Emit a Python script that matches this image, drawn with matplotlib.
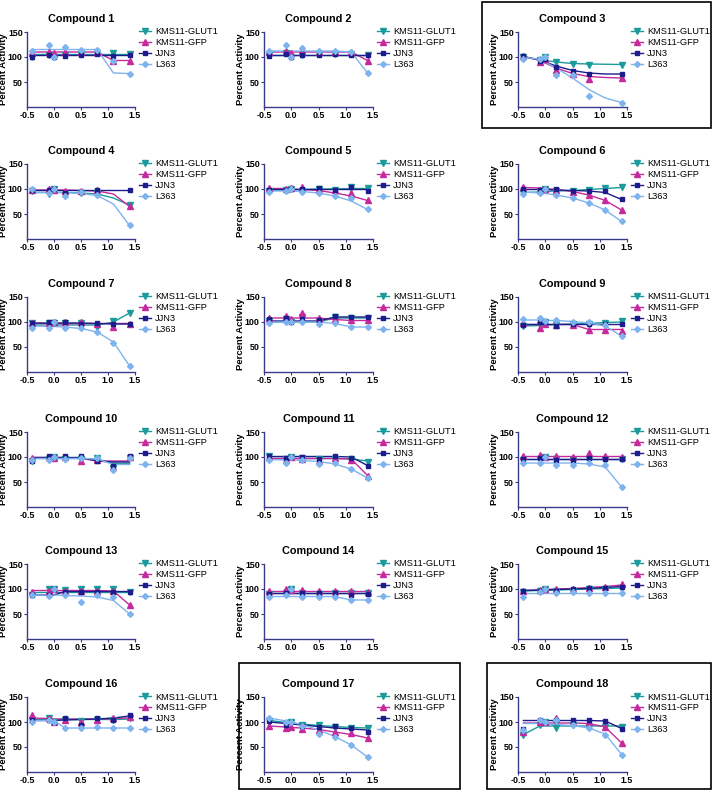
import numpy as np
import matplotlib
matplotlib.use("Agg")
import matplotlib.pyplot as plt
from matplotlib.patches import Rectangle

plt.rcParams['font.family'] = ['Liberation Sans', 'DejaVu Sans']

log_conc = [-0.4, -0.1, 0.0, 0.2, 0.5, 0.8, 1.1, 1.4]
series_names = ["KMS11-GLUT1", "KMS11-GFP", "JJN3", "L363"]
compounds = ["Compound %d" % i for i in range(1, 19)]
nan = np.nan

# measured points per compound: [GLUT1, GFP, JJN3, L363]
points = {
 1: [[100,105,100,105,107,108,108,106],[108,110,108,110,110,110,93,93],[100,105,100,103,105,106,103,105],[112,125,100,120,115,115,92,67]],
 2: [[105,108,100,105,106,106,106,105],[110,112,108,110,110,110,110,93],[103,106,100,104,105,106,105,105],[112,125,100,118,112,112,110,68]],
 3: [[100,95,100,90,86,85,nan,85],[103,90,97,75,66,57,nan,58],[102,93,97,80,73,66,nan,66],[97,97,100,65,65,22,nan,8]],
 4: [[95,90,100,88,92,92,nan,68],[98,100,98,95,96,97,nan,65],[97,97,100,92,93,97,nan,98],[100,92,100,85,93,88,nan,27]],
 5: [[95,97,100,96,100,98,104,102],[102,100,101,104,100,98,92,77],[97,97,100,100,102,97,104,95],[93,95,100,93,92,85,82,59]],
 6: [[92,95,100,96,96,97,101,103],[103,97,100,98,93,88,78,58],[100,98,100,100,95,96,95,79],[90,92,100,88,82,71,58,35]],
 7: [[98,98,98,98,98,90,102,118],[97,98,99,99,99,96,90,95],[98,100,99,99,96,97,96,96],[88,87,99,88,88,80,59,12]],
 8: [[102,105,100,110,100,110,108,107],[107,112,105,117,107,105,103,103],[105,107,100,105,103,112,110,110],[98,100,99,100,95,97,90,90]],
 9: [[92,93,100,93,95,95,98,101],[97,88,95,93,94,84,84,82],[93,100,100,92,95,95,95,96],[105,107,102,104,100,100,94,72]],
 10: [[93,97,100,96,97,98,78,98],[99,100,98,100,93,94,80,100],[92,102,100,102,102,93,82,102],[95,95,100,96,98,98,75,98]],
 11: [[102,97,100,98,96,97,97,90],[100,95,100,96,92,98,95,63],[102,98,100,100,97,102,98,83],[95,88,100,95,87,88,76,58]],
 12: [[95,97,100,96,95,97,95,97],[103,105,100,103,100,108,102,100],[97,98,100,95,95,98,97,97],[88,88,100,85,85,88,85,40]],
 13: [[88,100,100,98,100,100,100,95],[95,97,100,97,97,97,97,68],[88,88,100,95,95,95,95,95],[88,87,100,88,75,88,85,50]],
 14: [[90,92,100,92,90,92,92,92],[97,100,98,98,97,97,97,95],[90,92,100,92,92,93,88,90],[85,88,100,85,85,85,78,78]],
 15: [[95,97,100,97,97,100,100,102],[97,98,100,100,100,103,105,110],[97,97,100,97,100,102,103,105],[85,95,100,92,95,92,92,92]],
 16: [[105,108,100,105,102,105,105,108],[115,108,100,105,100,105,108,110],[105,105,100,108,95,108,105,115],[100,105,100,88,88,90,88,88]],
 17: [[103,97,100,95,95,90,88,88],[92,88,90,87,85,80,78,68],[103,95,100,92,90,92,88,80],[108,100,100,93,77,70,55,30]],
 18: [[75,95,100,88,95,90,90,90],[80,100,100,108,100,100,90,58],[87,105,100,105,105,105,102,87],[85,105,100,105,95,88,75,35]],
}

# fitted curve values read at the same concentrations
fits = {
 1: [[106,106,106,106,106,106,106,106],[110,110,110,110,110,110,93,93],[104,104,104,104,104,104,104,104],[115,115,115,115,115,115,68,67]],
 2: [[105,105,105,105,105,105,105,105],[110,110,110,110,110,110,110,93],[105,105,105,105,105,105,105,105],[112,112,112,112,112,112,110,68]],
 3: [[100,95,93,90,87,86,85.5,85],[101,93,88,78,67,61,59,58],[101,94,90,82,73,68,66,66],[100,95,90,78,58,35,18,9]],
 4: [[93,93,93,93,92,90,82,68],[98,98,98,98,97,96,90,65],[97,97,97,97,97,97,97,97],[93,93,93,93,91,87,70,27]],
 5: [[97,98,98,99,100,100,101,101],[101,101,100,99,97,92,86,77],[99,99,99,99,99,99,99,99],[96,96,96,95,92,86,76,59]],
 6: [[93,94,95,96,97,99,101,103],[103,102,101,99,95,88,77,58],[99,99,99,98,97,96,93,79],[94,92,91,88,82,72,58,35]],
 7: [[94,94,94,94,94,94,100,118],[97,97,97,97,97,97,97,97],[98,98,98,98,98,97,96,96],[92,91,91,90,87,80,60,12]],
 8: [[100,100,100,100,100,108,108,108],[108,108,108,108,108,105,103,103],[102,102,102,102,102,110,110,110],[100,100,100,100,100,97,90,90]],
 9: [[92,93,94,95,96,97,99,100],[95,95,95,95,95,85,85,85],[95,95,95,95,95,95,95,95],[104,104,103,103,101,98,92,72]],
 10: [[97,97,97,97,97,96,87,87],[99,99,99,99,97,92,92,92],[99,99,99,99,99,92,90,90],[97,97,97,97,97,96,85,85]],
 11: [[97,97,97,97,97,97,96,92],[97,97,97,97,97,97,96,63],[101,101,101,101,101,101,100,83],[95,94,94,93,91,86,76,58]],
 12: [[97,97,97,97,97,97,97,97],[103,103,103,103,103,103,103,103],[97,97,97,97,97,97,97,97],[88,88,88,88,88,86,80,40]],
 13: [[95,95,95,95,95,95,95,95],[97,97,97,97,97,97,96,68],[88,88,88,95,95,95,95,95],[88,88,88,87,86,84,77,50]],
 14: [[92,92,92,92,92,92,92,92],[97,97,97,97,97,97,97,97],[92,92,92,92,92,92,92,92],[85,85,85,85,85,85,78,78]],
 15: [[96,97,97,98,99,100,101,102],[97,98,99,100,101,103,105,108],[97,98,98,99,100,101,103,105],[92,92,92,92,92,92,92,92]],
 16: [[105,105,105,105,105,105,105,106],[108,107,106,106,106,106,107,108],[103,103,103,104,105,106,108,112],[103,103,103,88,88,88,88,88]],
 17: [[103,99,98,96,93,91,89,88],[92,90,89,88,85,80,75,68],[100,97,96,94,91,88,86,84],[108,102,99,95,84,71,54,30]],
 18: [[75,92,92,92,92,92,92,92],[98,98,98,98,98,97,90,58],[103,103,103,103,103,103,102,87],[97,97,96,95,93,88,76,35]],
}

boxed = [3, 17, 18]

colors = ['#1b9b9b', '#c42a9c', '#1c1c8c', '#7fb3ee']
markers = ['v', '^', 's', 'D']
msizes = [3.8, 3.8, 3.4, 3.0]
axis_color = '#3a3a8a'

W, H = 713, 791
fig = plt.figure(figsize=(W / 100, H / 100), dpi=100)

col_left = [27, 264, 518]
row_top = [32, 164, 297, 432, 564, 697]
col_w = [108, 109, 109]
ax_h = 75
# frame boxes in pixels: left, top, right, bottom
box_px = {3: (482, 2, 711, 128), 17: (239, 663, 460, 789), 18: (487, 663, 711, 789)}

for idx in range(18):
    r, c = divmod(idx, 3)
    num = idx + 1
    left = col_left[c] / W
    bottom = 1 - (row_top[r] + ax_h) / H
    ax = fig.add_axes([left, bottom, col_w[c] / W, ax_h / H])
    for s in range(4):
        ax.plot(log_conc, fits[num][s], '-', color=colors[s], lw=1.0, zorder=2)
        ax.plot(log_conc, points[num][s], linestyle='none', marker=markers[s],
                ms=msizes[s], color=colors[s], zorder=3)
        ax.plot([], [], '-', marker=markers[s], ms=msizes[s], color=colors[s],
                lw=1.0, label=series_names[s])
    ax.set_xlim(-0.5, 1.5)
    ax.set_ylim(0, 150)
    ax.set_xticks([-0.5, 0.0, 0.5, 1.0, 1.5])
    ax.set_xticklabels(['-0.5', '0.0', '0.5', '1.0', '1.5'])
    ax.set_yticks([50, 100, 150])
    for sp in ['top', 'right']:
        ax.spines[sp].set_visible(False)
    for sp in ['left', 'bottom']:
        ax.spines[sp].set_color(axis_color)
        ax.spines[sp].set_linewidth(1.0)
    ax.tick_params(axis='both', colors=axis_color, length=2.0, width=0.8, pad=1.0,
                   labelsize=6.4, labelcolor='black')
    for lab in ax.get_xticklabels() + ax.get_yticklabels():
        lab.set_fontweight('bold')
    ax.set_title(compounds[idx], fontsize=7.8, fontweight='bold', pad=7)
    ax.set_ylabel('Percent Activity', fontsize=6.8, fontweight='bold', labelpad=0)
    ax.legend(loc='upper left', bbox_to_anchor=(1.04, 1.06), frameon=False,
              fontsize=6.7, handlelength=1.3, handletextpad=0.4,
              labelspacing=0.2, borderaxespad=0, borderpad=0)
    if num in boxed:
        bl, bt, br, bb = box_px[num]
        rect = Rectangle((bl / W, 1 - bb / H), (br - bl) / W, (bb - bt) / H,
                         transform=fig.transFigure, fill=False,
                         edgecolor='black', lw=1.2)
        fig.add_artist(rect)

fig.savefig('out.png', dpi=100)
